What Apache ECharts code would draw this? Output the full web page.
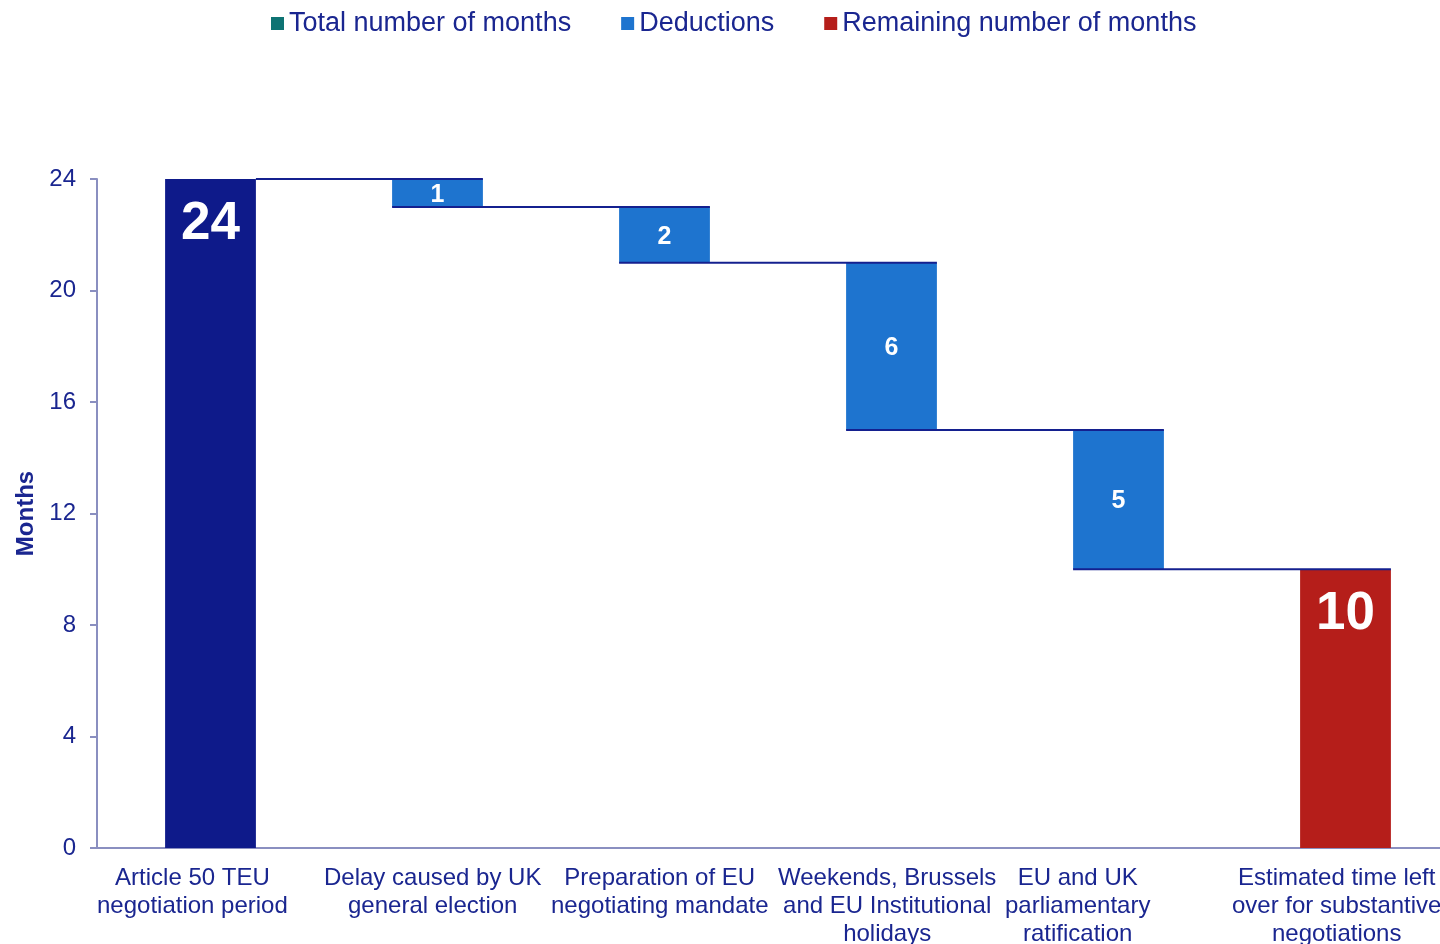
<!DOCTYPE html>
<html><head><meta charset="utf-8">
<script src="https://cdn.jsdelivr.net/npm/echarts@6/dist/echarts.min.js"></script>
<style>html,body{margin:0;padding:0;background:#fff}#c{width:1440px;height:944px}</style>
</head><body><div id="c"></div>
<script>
const categories = [
  'Article 50 TEU\nnegotiation period',
  'Delay caused by UK\ngeneral election',
  'Preparation of EU\nnegotiating mandate',
  'Weekends, Brussels\nand EU Institutional\nholidays',
  'EU and UK\nparliamentary\nratification',
  'Estimated time left\nover for substantive\nnegotiations'
];
const totalValues = [24, '-', '-', '-', '-', '-'];
const deductionValues = ['-', 1, 2, 6, 5, '-'];
const baseValues = ['-', 23, 21, 15, 10, '-'];
const remainingValues = ['-', '-', '-', '-', '-', 10];
const connectorLevels = [[0, 24], [1, 23], [2, 21], [3, 15], [4, 10]];
const yTicks = {min: 0, max: 24, interval: 4};

const navy = '#0E1A8A';
const textNavy = '#1A2690';
const font = '"Liberation Sans", Arial, sans-serif';
const chart = echarts.init(document.getElementById('c'));
chart.setOption({
  animation: false,
  textStyle: {fontFamily: font},
  legend: {
    top: 5, left: 266, itemWidth: 13, itemHeight: 13, itemGap: 50,
    icon: 'rect',
    textStyle: {fontSize: 27, color: textNavy, fontFamily: font},
    data: [
      {name: 'Total number of months', itemStyle: {color: '#0E7373'}},
      {name: 'Deductions', itemStyle: {color: '#1E74CF'}},
      {name: 'Remaining number of months', itemStyle: {color: '#B51E1A'}}
    ]
  },
  grid: {left: 97, width: 1362, top: 179, height: 669, outerBoundsMode: 'none', containLabel: false},
  xAxis: [{
    type: 'category', data: categories,
    axisLine: {lineStyle: {color: '#8A8FC0', width: 2}},
    axisTick: {length: 7, lineStyle: {color: '#8A8FC0', width: 2}},
    axisLabel: {show: false}
  }, {
    type: 'category', data: categories.concat(['']), boundaryGap: false, position: 'bottom',
    axisLine: {show: false}, axisTick: {show: false}, splitLine: {show: false},
    axisLabel: {
      interval: 0, margin: 16, align: 'left',
      formatter: function (v) {
        return v.split('\n').map(function (s) { return '{c|' + s + '}'; }).join('\n');
      },
      rich: {c: {align: 'center', color: textNavy, fontSize: 24, lineHeight: 28, fontFamily: font}}
    }
  }],
  yAxis: {
    type: 'value', min: yTicks.min, max: yTicks.max, interval: yTicks.interval,
    name: 'Months', nameLocation: 'middle', nameGap: 57, nameRotate: 90,
    nameTextStyle: {color: textNavy, fontSize: 24, fontWeight: 'bold', fontFamily: font},
    splitLine: {show: false},
    axisLine: {show: true, lineStyle: {color: '#8A8FC0', width: 2}},
    axisTick: {show: true, length: 7, lineStyle: {color: '#8A8FC0', width: 2}},
    axisLabel: {color: textNavy, fontSize: 24, margin: 21, fontFamily: font}
  },
  series: [
    {
      name: 'Total number of months', type: 'bar', stack: 's', barWidth: '40%',
      data: totalValues, itemStyle: {color: navy},
      label: {show: true, position: 'insideTop', distance: 19, color: '#fff', fontSize: 53, fontWeight: 'bold', fontFamily: font}
    },
    {
      name: 'base', type: 'bar', stack: 's', barWidth: '40%', data: baseValues,
      itemStyle: {color: 'transparent'}, silent: true
    },
    {
      name: 'Deductions', type: 'bar', stack: 's', barWidth: '40%',
      data: deductionValues, itemStyle: {color: '#1E74CF'},
      label: {show: true, position: 'inside', offset: [0, 2], color: '#fff', fontSize: 25, fontWeight: 'bold', fontFamily: font}
    },
    {
      name: 'Remaining number of months', type: 'bar', stack: 's', barWidth: '40%',
      data: remainingValues, itemStyle: {color: '#B51E1A'},
      label: {show: true, position: 'insideTop', distance: 19, color: '#fff', fontSize: 53, fontWeight: 'bold', fontFamily: font}
    },
    {
      name: 'connectors', type: 'custom', data: connectorLevels, z: 10, silent: true,
      renderItem: function (params, api) {
        const p = api.coord([api.value(0), api.value(1)]);
        const band = api.size([1, 0])[0];
        const bw = band * 0.4;
        const x1 = api.value(0) === 0 ? p[0] + bw / 2 : p[0] - bw / 2;
        const x2 = p[0] + band + bw / 2;
        return {type: 'line', shape: {x1: x1, y1: p[1], x2: x2, y2: p[1]},
          style: {stroke: '#14208F', lineWidth: 2}};
      }
    }
  ]
});
</script></body></html>
